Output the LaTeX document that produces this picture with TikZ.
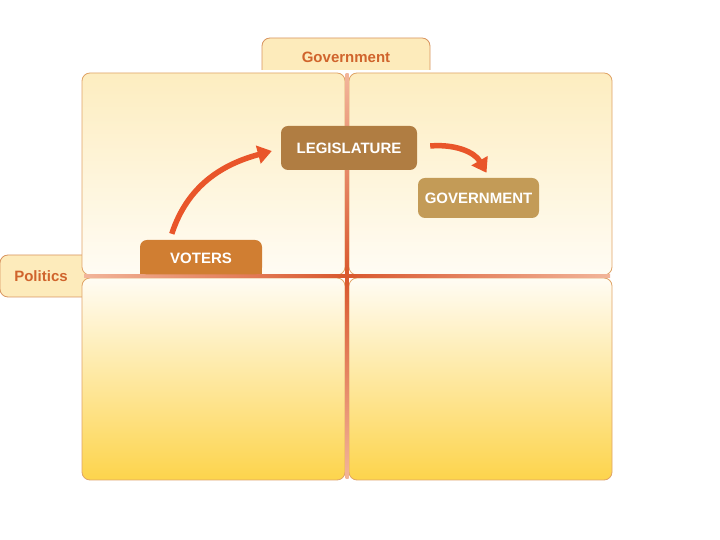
\documentclass[tikz,border=0pt]{standalone}
\usepackage{fontspec}
\setmainfont{Liberation Sans}
\usetikzlibrary{arrows.meta}
\definecolor{quadtop}{HTML}{FDEDC0}
\definecolor{quadmid}{HTML}{FFFCF4}
\definecolor{quadbot}{HTML}{FDD44C}
\definecolor{edge}{HTML}{E0A467}
\definecolor{tabfill}{HTML}{FDEBBB}
\definecolor{tabedge}{HTML}{D99560}
\definecolor{tabtext}{HTML}{D0642C}
\definecolor{legc}{HTML}{B07D42}
\definecolor{govc}{HTML}{C39B57}
\definecolor{votc}{HTML}{D07E32}
\definecolor{arrc}{HTML}{E9552A}
\definecolor{crossc}{HTML}{D9582E}
\definecolor{crosslight}{HTML}{F2B59A}
\tikzset{
  boxnode/.style={rounded corners=7pt, text=white, font=\bfseries\fontsize{15}{17}\selectfont, inner sep=0pt},
  tabtxt/.style={text=tabtext, font=\bfseries\fontsize{15}{17}\selectfont, inner sep=0pt},
  arr/.style={draw=arrc, line width=5.5pt, -{Triangle[width=18pt,length=14pt]}},
  quad/.style={draw=edge, line width=0.8pt, rounded corners=8pt}
}
\begin{document}
\begin{tikzpicture}[x=1pt,y=1pt]
\useasboundingbox (0,0) rectangle (720,540);
\fill[white] (0,0) rectangle (720,540);
% tabs (behind quadrants)
\draw[fill=tabfill, draw=tabedge, line width=0.8pt, rounded corners=8pt]
  (262,470) -- (262,502) -- (430,502) -- (430,470);
\draw[fill=tabfill, draw=tabedge, line width=0.8pt, rounded corners=8pt]
  (88,285) -- (0,285) -- (0,243) -- (88,243);
% quadrants
\shade[quad, top color=quadtop, bottom color=quadmid] (82,265) rectangle (345,467);
\shade[quad, top color=quadtop, bottom color=quadmid] (349,265) rectangle (612,467);
\shade[quad, top color=quadmid, bottom color=quadbot] (82,60) rectangle (345,262);
\shade[quad, top color=quadmid, bottom color=quadbot] (349,60) rectangle (612,262);
% cross lines
\shade[left color=crosslight, right color=crosslight, middle color=crossc] (84,262) rectangle (610,265.5);
\shade[top color=crosslight, bottom color=crosslight, middle color=crossc] (345.5,61) rectangle (348.5,466);
% tab labels
\node[tabtxt] (govtab) at (346,483) {Government};
\node[tabtxt] (poltab) at (41,264) {Politics};
% boxes
\node[boxnode, fill=legc, minimum width=136pt, minimum height=44pt] (leg) at (349,392) {LEGISLATURE};
\node[boxnode, fill=govc, minimum width=121pt, minimum height=40pt] (gov) at (478.5,342) {GOVERNMENT};
\fill[votc, rounded corners=7pt] (140,265.5) -- (140,300) -- (262,300) -- (262,265.5) -- cycle;
\fill[votc] (140,265.5) rectangle (262,275);
\node[boxnode, minimum width=122pt, minimum height=37pt] (voters) at (201,281.5) {VOTERS};
% arrows
\draw[arr] ([shift={(32,6)}]voters.north west) to[out=72, in=195] ([shift={(-9,-3)}]leg.west);
\draw[arr] ([shift={(13,2)}]leg.east) to[out=5, in=120] ([shift={(8,5)}]gov.north);
\end{tikzpicture}
\end{document}
